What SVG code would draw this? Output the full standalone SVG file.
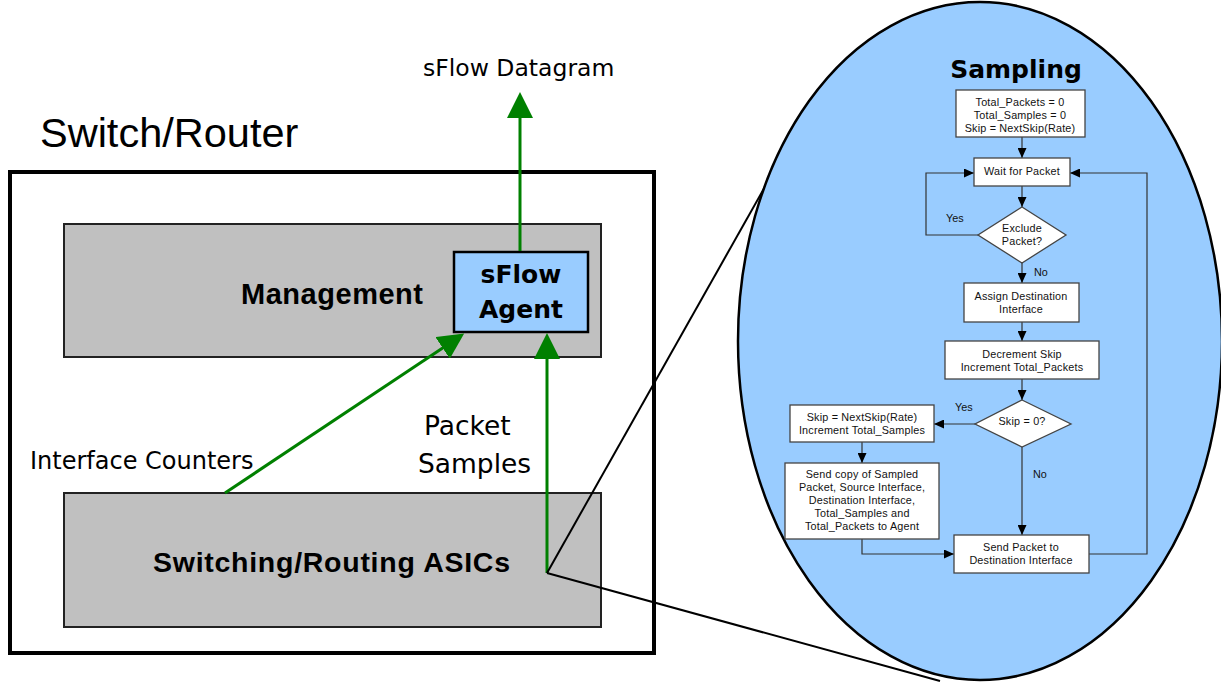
<svg xmlns="http://www.w3.org/2000/svg" width="1221" height="682" viewBox="0 0 1221 682">
<style>
.big{font-family:"Liberation Sans",Arial,sans-serif;font-size:41.5px;fill:#000}
.lbl{font-family:"DejaVu Sans",sans-serif;fill:#000}
.bold{font-family:"Liberation Sans",Arial,sans-serif;font-weight:bold;fill:#000}
.dvb{font-family:"DejaVu Sans",sans-serif;font-weight:bold;fill:#000}
.gray{fill:#c0c0c0;stroke:#222;stroke-width:2}
.agent{fill:#99ccff;stroke:#000;stroke-width:2.5}
.green{stroke:#008000;stroke-width:3;fill:none}
.zoomline{stroke:#000;stroke-width:2;fill:none}
.fbox{fill:#fff;stroke:#444;stroke-width:1.3}
.ft{font-family:"Liberation Sans",Arial,sans-serif;font-size:10.8px;fill:#111;text-anchor:middle;letter-spacing:0.2px}
.fl{font-family:"Liberation Sans",Arial,sans-serif;font-size:10.8px;fill:#111}
.fc{stroke:#333;stroke-width:1.2;fill:none;marker-end:url(#ah)}
</style>
<defs>
<marker id="gh" markerUnits="userSpaceOnUse" viewBox="0 0 26 26" markerWidth="26" markerHeight="26" refX="1" refY="13" orient="auto">
<path d="M0,0 L26,13 L0,26 z" fill="#008000"/>
</marker>
<marker id="ah" markerUnits="userSpaceOnUse" viewBox="0 0 10 9" markerWidth="10" markerHeight="9" refX="10" refY="4.5" orient="auto">
<path d="M0,0 L10,4.5 L0,9 z" fill="#000"/>
</marker>
</defs>
<rect width="1221" height="682" fill="#fff"/>

<text class="big" x="40" y="147">Switch/Router</text>
<text class="lbl" x="423" y="76" font-size="23.5">sFlow Datagram</text>

<g id="switch-router">
<rect x="10" y="172" width="644" height="481" fill="#fff" stroke="#000" stroke-width="4"/>
</g>
<g id="management">
<rect class="gray" x="64" y="224" width="537" height="133"/>
<text class="bold" x="241" y="304" font-size="29" textLength="182" lengthAdjust="spacing">Management</text>
</g>
<g id="asics">
<rect class="gray" x="64" y="493" width="537" height="134"/>
<text class="bold" x="153" y="572" font-size="28.5" textLength="357" lengthAdjust="spacing">Switching/Routing ASICs</text>
</g>
<g id="sflow-agent">
<rect class="agent" x="454" y="252" width="134" height="80"/>
<text class="dvb" x="521" y="283" font-size="25" text-anchor="middle">sFlow</text>
<text class="dvb" x="521" y="318" font-size="25" text-anchor="middle">Agent</text>
</g>

<text class="lbl" x="30" y="469" font-size="24">Interface Counters</text>
<text class="lbl" x="424" y="435" font-size="26.5">Packet</text>
<text class="lbl" x="418" y="473" font-size="26.5">Samples</text>

<g id="connectors">
<line class="green" x1="520" y1="251" x2="520" y2="117" marker-end="url(#gh)"/>
<line class="green" x1="225" y1="493" x2="443.4" y2="347.4" marker-end="url(#gh)"/>
<line class="green" x1="547" y1="573" x2="547" y2="358" marker-end="url(#gh)"/>
<line class="zoomline" x1="547" y1="573" x2="766" y2="185"/>
<line class="zoomline" x1="547" y1="573" x2="940" y2="681"/>
</g>

<g id="sampling-ellipse">
<ellipse cx="980" cy="341" rx="242" ry="339" fill="#99ccff" stroke="#000" stroke-width="2.5"/>
<text class="dvb" x="1016" y="78" font-size="25" text-anchor="middle">Sampling</text>
</g>

<g id="flow-connectors">
<polyline class="fc" points="1022,137 1022,158"/>
<polyline class="fc" points="1022,186 1022,207"/>
<polyline class="fc" points="978,235 926,235 926,173 974,173"/>
<polyline class="fc" points="1022,263 1022,283"/>
<polyline class="fc" points="1022,322 1022,341"/>
<polyline class="fc" points="1022,379 1022,400"/>
<polyline class="fc" points="975,424 934,424"/>
<polyline class="fc" points="862,442 862,463"/>
<polyline class="fc" points="862,539 862,554 954,554"/>
<polyline class="fc" points="1022,447 1022,535"/>
<polyline class="fc" points="1089,554 1147,554 1147,173 1070,173"/>
<text class="fl" x="946" y="222">Yes</text>
<text class="fl" x="1034" y="276">No</text>
<text class="fl" x="955" y="411">Yes</text>
<text class="fl" x="1033" y="478">No</text>
</g>

<g id="init">
<rect class="fbox" x="956" y="90" width="129" height="47"/>
<text class="ft" x="1020" y="106">Total_Packets = 0</text>
<text class="ft" x="1020" y="119">Total_Samples = 0</text>
<text class="ft" x="1020" y="132">Skip = NextSkip(Rate)</text>
</g>
<g id="wait">
<rect class="fbox" x="974" y="158" width="96" height="28"/>
<text class="ft" x="1022" y="175">Wait for Packet</text>
</g>
<g id="exclude">
<polygon class="fbox" points="1022,207 1066,235 1022,263 978,235"/>
<text class="ft" x="1022" y="232">Exclude</text>
<text class="ft" x="1022" y="245">Packet?</text>
</g>
<g id="assign">
<rect class="fbox" x="964" y="283" width="115" height="39"/>
<text class="ft" x="1021" y="300">Assign Destination</text>
<text class="ft" x="1021" y="313">Interface</text>
</g>
<g id="decrement">
<rect class="fbox" x="945" y="341" width="154" height="38"/>
<text class="ft" x="1022" y="358">Decrement Skip</text>
<text class="ft" x="1022" y="371">Increment Total_Packets</text>
</g>
<g id="skip-zero">
<polygon class="fbox" points="1022,400 1071,424 1022,447 975,424"/>
<text class="ft" x="1022" y="425">Skip = 0?</text>
</g>
<g id="next-skip">
<rect class="fbox" x="790" y="405" width="144" height="37"/>
<text class="ft" x="862" y="421">Skip = NextSkip(Rate)</text>
<text class="ft" x="862" y="434">Increment Total_Samples</text>
</g>
<g id="send-copy">
<rect class="fbox" x="785" y="463" width="154" height="76"/>
<text class="ft" x="862" y="478">Send copy of Sampled</text>
<text class="ft" x="862" y="491">Packet, Source Interface,</text>
<text class="ft" x="862" y="504">Destination Interface,</text>
<text class="ft" x="862" y="517">Total_Samples and</text>
<text class="ft" x="862" y="530">Total_Packets to Agent</text>
</g>
<g id="send-packet">
<rect class="fbox" x="954" y="535" width="135" height="38"/>
<text class="ft" x="1021" y="551">Send Packet to</text>
<text class="ft" x="1021" y="564">Destination Interface</text>
</g>
</svg>
